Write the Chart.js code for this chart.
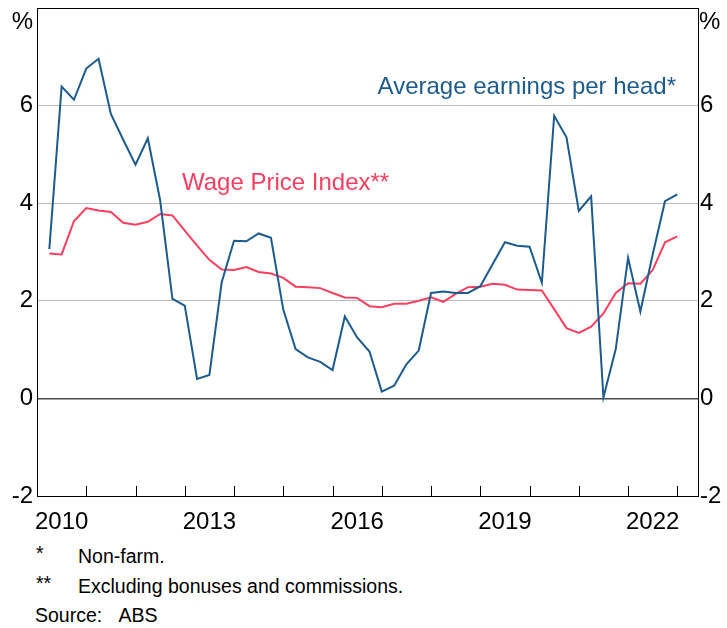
<!DOCTYPE html>
<html>
<head>
<meta charset="utf-8">
<script src="https://cdn.jsdelivr.net/npm/chart.js@4.4.1/dist/chart.umd.min.js"></script>
<style>
  body { margin: 0; background: #fff; font-family: "Liberation Sans", Arial, sans-serif; }
  #wrap { position: relative; width: 727px; height: 540px; }
  .notes { position: absolute; left: 0; top: 540px; width: 727px; font-size: 19.5px; color: #000; }
  .notes div { position: absolute; white-space: nowrap; }
</style>
</head>
<body>
<div id="wrap"><canvas id="chart" width="727" height="540"></canvas></div>
<div class="notes">
  <div style="left:36px;top:2px;">*</div><div style="left:78px;top:5px;">Non-farm.</div>
  <div style="left:36px;top:32px;">**</div><div style="left:78px;top:35px;">Excluding bonuses and commissions.</div>
  <div style="left:35px;top:64px;">Source:&nbsp;&nbsp;&nbsp;ABS</div>
</div>
<script>
// quarterly, Mar 2010 to Dec 2022
const quarters = [];
for (let y = 2010; y <= 2022; y++) {
  ['Mar', 'Jun', 'Sep', 'Dec'].forEach(m => quarters.push(m + ' ' + y));
}
const monthIdx = { Mar: 3, Jun: 6, Sep: 9, Dec: 12 };
const qx = quarters.map(q => {
  const [m, y] = q.split(' ');
  return +y + monthIdx[m] / 12;
});

// year-ended growth, %
const earningsPerHead = [
  3.06, 6.39, 6.12, 6.76, 6.96, 5.83, 5.30, 4.79, 5.33, 4.06, 2.04, 1.90,
  0.40, 0.48, 2.38, 3.23, 3.22, 3.38, 3.29, 1.82, 1.01, 0.84, 0.75, 0.58,
  1.68, 1.25, 0.96, 0.14, 0.26, 0.70, 0.98, 2.16, 2.19, 2.16, 2.16, 2.30,
  2.75, 3.20, 3.13, 3.11, 2.37, 5.79, 5.35, 3.84, 4.14, 0.02, 1.01, 2.88,
  1.78, 2.95, 4.04, 4.18
];
const wagePriceIndex = [
  2.97, 2.95, 3.63, 3.90, 3.85, 3.82, 3.60, 3.56, 3.62, 3.78, 3.75, 3.44,
  3.13, 2.84, 2.64, 2.63, 2.69, 2.59, 2.56, 2.47, 2.29, 2.28, 2.26, 2.16,
  2.07, 2.06, 1.89, 1.87, 1.94, 1.94, 2.00, 2.07, 1.98, 2.14, 2.28, 2.29,
  2.35, 2.33, 2.23, 2.22, 2.21, 1.83, 1.44, 1.34, 1.47, 1.74, 2.16, 2.36,
  2.35, 2.63, 3.20, 3.32
];

const yearLabels = [2010, 2013, 2016, 2019, 2022];
const yTicks = [-2, 0, 2, 4, 6, 8];

const BLUE = '#1d5b8c';
const RED = '#f7405f';
const FONT = '"Liberation Sans", Arial, sans-serif';

const extras = {
  id: 'extras',
  afterDatasetsDraw(chart) {
    const { ctx, chartArea: a, scales } = chart;
    ctx.save();
    // year tick marks, drawn inside the plot
    ctx.strokeStyle = '#000';
    ctx.lineWidth = 1;
    for (let y = 2011; y <= 2023; y++) {
      const px = Math.round(scales.x.getPixelForValue(y)) + 0.5;
      ctx.beginPath();
      ctx.moveTo(px, a.bottom);
      ctx.lineTo(px, a.bottom - 10);
      ctx.stroke();
    }
    ctx.font = '24px ' + FONT;
    ctx.textBaseline = 'middle';
    ctx.fillStyle = '#000';
    ctx.textAlign = 'right';
    ctx.fillText('%', a.left - 4, a.top + 14);
    ctx.textAlign = 'left';
    ctx.fillText('%', a.right + 1, a.top + 14);
    ctx.fillStyle = BLUE;
    ctx.textAlign = 'right';
    ctx.fillText('Average earnings per head*', 676, 87);
    ctx.fillStyle = RED;
    ctx.textAlign = 'left';
    ctx.fillText('Wage Price Index**', 182, 183);
    ctx.restore();
  }
};

const yAxis = (pos) => ({
  type: 'linear',
  position: pos,
  min: -2,
  max: 8,
  afterBuildTicks: s => { s.ticks = yTicks.map(v => ({ value: v })); },
  afterFit: s => {
    s.width = pos === 'left' ? 37 : 29;
    s.paddingTop = 0;
    s.paddingBottom = 0;
  },
  grid: {
    display: pos === 'left',
    drawTicks: false,
    color: c => c.tick.value === 0 ? '#4a4a4a' : (c.tick.value === 8 || c.tick.value === -2 ? '#000' : '#bcbcbc'),
    lineWidth: c => c.tick.value === 0 ? 1.6 : 1
  },
  border: { color: '#000', width: 1 },
  ticks: {
    padding: pos === 'left' ? 4 : 2,
    color: '#000',
    font: { family: FONT, size: 24 },
    callback: v => v === 8 ? '' : v
  }
});

new Chart(document.getElementById('chart'), {
  type: 'line',
  data: {
    datasets: [
      {
        label: 'Average earnings per head*',
        data: qx.map((x, i) => ({ x, y: earningsPerHead[i] })),
        borderColor: BLUE,
        borderWidth: 2,
        pointRadius: 0,
        tension: 0
      },
      {
        label: 'Wage Price Index**',
        data: qx.map((x, i) => ({ x, y: wagePriceIndex[i] })),
        borderColor: RED,
        borderWidth: 2,
        pointRadius: 0,
        tension: 0
      }
    ]
  },
  options: {
    responsive: false,
    animation: false,
    layout: { padding: { top: 8, left: 0, right: 0, bottom: 0 } },
    plugins: { legend: { display: false }, tooltip: { enabled: false } },
    scales: {
      x: {
        type: 'linear',
        min: 2010,
        max: 2023.42,
        afterBuildTicks: s => { s.ticks = yearLabels.map(v => ({ value: v + 0.5 })); },
        afterFit: s => { s.height = 44; s.paddingLeft = 0; s.paddingRight = 0; },
        grid: { display: false },
        border: { color: '#000', width: 1 },
        ticks: {
          padding: 4,
          maxRotation: 0,
          color: '#000',
          font: { family: FONT, size: 24 },
          callback: v => Math.floor(v)
        }
      },
      y: yAxis('left'),
      y2: yAxis('right')
    }
  },
  plugins: [extras]
});
</script>
</body>
</html>
